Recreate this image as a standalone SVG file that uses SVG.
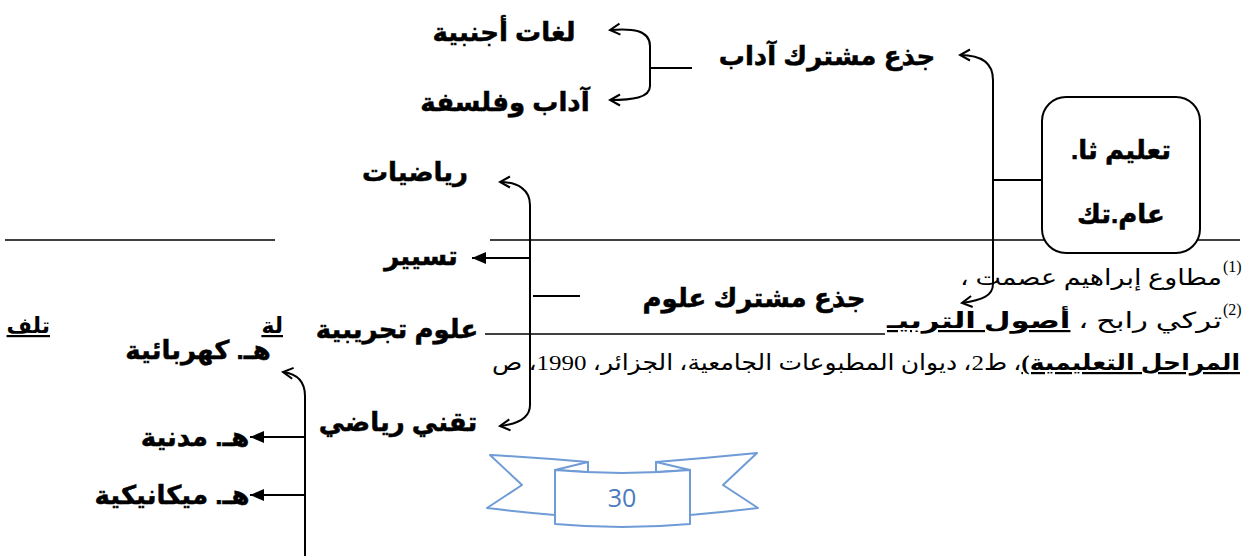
<svg xmlns="http://www.w3.org/2000/svg" width="1248" height="556" viewBox="0 0 1248 556">
<style>
.lbl{font-family:"Liberation Sans","DejaVu Sans",sans-serif;font-weight:bold;font-size:26px;fill:#000;stroke:#000;stroke-width:0.5;text-anchor:middle}
.fn{font-family:"Liberation Serif","DejaVu Sans",serif;font-size:22px;fill:#000}
.sup{font-family:"Liberation Serif",serif;font-size:16px;fill:#000}
.ln{fill:none;stroke:#000;stroke-width:2}
.rule{fill:none;stroke:#000;stroke-width:1.6}
.rib{fill:#fff;stroke:#6F9BD6;stroke-width:2;stroke-linejoin:round}
</style>
<defs>
<marker id="open" viewBox="0 0 14 14" refX="12" refY="7" markerWidth="14" markerHeight="14" markerUnits="userSpaceOnUse" orient="auto-start-reverse">
<path d="M2 1.5 L12 7 L2 12.5" fill="none" stroke="#000" stroke-width="2"/>
</marker>
<marker id="fill" viewBox="0 0 14 12" refX="14" refY="6" markerWidth="14" markerHeight="12" markerUnits="userSpaceOnUse" orient="auto">
<path d="M0 0 L14 6 L0 12 z" fill="#000"/>
</marker>
</defs>
<rect width="1248" height="556" fill="#fff"/>

<g id="page-rules">
<path class="rule" d="M5 240 H275"/>
<path class="rule" d="M490 240 H1240"/>
</g>

<g id="footnotes">
<text class="sup" x="1223" y="272">(1)</text>
<text class="fn" x="1222" y="285" direction="rtl" text-anchor="start" textLength="262" lengthAdjust="spacingAndGlyphs">مطاوع إبراهيم عصمت ،</text>
<text class="sup" x="1223" y="315">(2)</text>
<text class="fn" x="1222" y="328" direction="rtl" text-anchor="start" textLength="335" lengthAdjust="spacingAndGlyphs">تركي رابح ، <tspan font-weight="bold" text-decoration="underline">أصول التربيـ</tspan></text>
<path class="rule" d="M485 334 H885"/>
<text class="fn" x="283" y="333" direction="rtl" text-anchor="start" font-weight="bold" text-decoration="underline">لة</text>
<text class="fn" x="50" y="333" direction="rtl" text-anchor="start" font-weight="bold" text-decoration="underline">تلف</text>
<text class="fn" x="1240" y="370" direction="rtl" text-anchor="start" textLength="748" lengthAdjust="spacingAndGlyphs"><tspan font-weight="bold" text-decoration="underline">المراحل التعليمية)</tspan>، ط2، ديوان المطبوعات الجامعية، الجزائر، 1990، ص</text>
</g>

<g id="connectors">
<path class="ln" d="M610 30 C632 28 650 30 650 46 L650 86 C650 98 632 100 610 100" marker-start="url(#open)" marker-end="url(#open)"/>
<path class="ln" d="M650 68 H692"/>
<path class="ln" d="M960 55 C980 55 993 62 993 80 L993 284 C993 296 982 300 962 303" marker-start="url(#open)" marker-end="url(#open)"/>
<path class="ln" d="M993 180 H1042"/>
<path class="ln" d="M500 182 C518 182 530 190 530 205 L530 405 C530 418 518 424 500 426" marker-start="url(#open)" marker-end="url(#open)"/>
<path class="ln" d="M530 258 H472" marker-end="url(#fill)"/>
<path class="ln" d="M533 296 H580"/>
<path class="ln" d="M283 372 C298 374 305 382 305 396 L305 556" marker-start="url(#open)"/>
<path class="ln" d="M305 437 H250" marker-end="url(#fill)"/>
<path class="ln" d="M305 495 H250" marker-end="url(#fill)"/>
</g>

<g id="node-languages"><text class="lbl" x="504" y="41" font-size="27">لغات أجنبية</text></g>
<g id="node-philosophy"><text class="lbl" x="505" y="111" font-size="27">آداب وفلسفة</text></g>
<g id="node-common-letters"><text class="lbl" x="827" y="65">جذع مشترك آداب</text></g>
<g id="node-general-education">
<rect x="1042" y="97" width="158" height="156" rx="24" fill="#fff" stroke="#000" stroke-width="2"/>
<text class="lbl" x="1121" y="159" font-size="27" direction="rtl">تعليم ثا.</text>
<text class="lbl" x="1121" y="223" font-size="27">عام.تك</text>
</g>
<g id="node-math"><text class="lbl" x="415" y="181">رياضيات</text></g>
<g id="node-management"><text class="lbl" x="421" y="265" font-size="24">تسيير</text></g>
<g id="node-common-science"><text class="lbl" x="754" y="307">جذع مشترك علوم</text></g>
<g id="node-experimental"><text class="lbl" x="397" y="338">علوم تجريبية</text></g>
<g id="node-tech-math"><text class="lbl" x="398" y="431">تقني رياضي</text></g>
<g id="node-electrical"><text class="lbl" x="198" y="359" font-size="24">هـ. كهربائية</text></g>
<g id="node-civil"><text class="lbl" x="195" y="446" font-size="24">هـ. مدنية</text></g>
<g id="node-mechanical"><text class="lbl" x="172" y="504" font-size="24">هـ. ميكانيكية</text></g>

<g id="page-number">
<path class="rib" d="M490 455 Q540 458 588 462 L588 472 L555 470 L555 515 Q520 512 487 508 L522 485 Z"/>
<path class="rib" d="M757 453 Q707 458 656 462 L656 472 L690 470 L690 515 Q725 512 758 508 L723 485 Z"/>
<path class="rib" d="M555 470 L588 462 L588 472 Z"/>
<path class="rib" d="M690 470 L656 462 L656 472 Z"/>
<path class="rib" d="M555 470 Q622 476 690 470 L690 524 Q622 530 555 524 Z"/>
<text x="622" y="507" font-family="'Open Sans','Liberation Sans',sans-serif" font-size="25" fill="#4A7BBE" text-anchor="middle">30</text>
</g>
</svg>
